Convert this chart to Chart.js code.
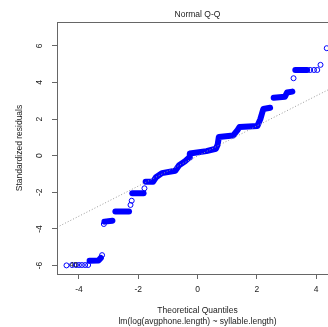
<!DOCTYPE html>
<html>
<head>
<meta charset="utf-8">
<script src="https://cdn.jsdelivr.net/npm/chart.js@4.4.1/dist/chart.umd.min.js"></script>
<style>
  html, body { margin: 0; padding: 0; overflow: hidden; background: #fff; }
  #wrap { width: 360px; height: 327px; }
</style>
</head>
<body>
<div id="wrap"><canvas id="qq" width="360" height="327"></canvas></div>
<script>
// tick labels
const xTicks = [-4, -2, 0, 2, 4];
const yTicks = [-6, -4, -2, 0, 2, 4, 6];

// single residuals, drawn as open circles (theoretical quantile, standardized residual)
const pointX = [-4.42, -4.23, -4.10, -4.00, -3.90, -3.79, -3.69, -3.22, -3.16, -2.26, -2.22, -1.79, 3.24, 3.80, 3.93, 4.04, 4.15, 4.36];
const pointY = [-5.99, -5.97, -5.97, -5.97, -5.97, -5.97, -5.97, -5.43, -3.73, -2.69, -2.46, -1.78, 4.23, 4.68, 4.68, 4.68, 4.96, 5.87];

// runs of tied residuals, so dense the circles merge into a solid band
const runA = [[-3.64, -5.74], [-3.34, -5.72], [-3.26, -5.58]];
const runB = [[-3.14, -3.60], [-2.87, -3.55]];
const runC = [[-2.77, -3.05], [-2.31, -3.05]];
const runD = [[-2.20, -2.05], [-1.82, -2.05]];
const runE = [[-1.75, -1.42], [-1.50, -1.42], [-1.40, -1.18], [-1.20, -0.95], [-0.75, -0.82],
              [-0.62, -0.52], [-0.42, -0.30], [-0.28, -0.10], [-0.26, 0.12], [0.30, 0.25],
              [0.62, 0.38], [0.68, 0.60], [0.72, 1.02], [1.20, 1.10], [1.35, 1.40],
              [1.42, 1.57], [2.02, 1.62], [2.12, 2.00], [2.22, 2.55], [2.45, 2.62]];
const runF = [[2.57, 3.17], [2.95, 3.22], [3.02, 3.45], [3.20, 3.50]];
const runG = [[3.30, 4.68], [3.70, 4.68]];

// qqline ends
const refLine = [[-4.74, -3.91], [4.74, 3.87]];

const idLabel = '45';
const xRange = [-4.74, 4.74];
const yRange = [-6.46, 7.30];

const blue = '#0000ff';
const font = '"Liberation Sans", Arial, sans-serif';
const toXY = arr => arr.map(p => ({ x: p[0], y: p[1] }));

const runDataset = run => ({
  type: 'line',
  data: toXY(run),
  borderColor: blue,
  borderWidth: 6,
  borderCapStyle: 'round',
  borderJoinStyle: 'round',
  pointRadius: 0,
  tension: 0
});

const textPlugin = {
  id: 'rtext',
  afterDraw(chart) {
    const { ctx, chartArea: a, scales: { x, y } } = chart;
    ctx.save();
    // frame
    ctx.strokeStyle = '#666';
    ctx.lineWidth = 1;
    ctx.strokeRect(Math.round(a.left) + 0.5, Math.round(a.top) + 0.5, a.right - a.left, a.bottom - a.top);

    ctx.fillStyle = '#222';
    ctx.font = '8.5px ' + font;
    ctx.textAlign = 'center';
    ctx.textBaseline = 'middle';
    xTicks.forEach(v => ctx.fillText(String(v), x.getPixelForValue(v), 290));
    yTicks.forEach(v => {
      ctx.save();
      ctx.translate(40, y.getPixelForValue(v));
      ctx.rotate(-Math.PI / 2);
      ctx.fillText(String(v), 0, 0);
      ctx.restore();
    });
    const cx = (a.left + a.right) / 2;
    ctx.fillText('Normal Q-Q', cx, 15);
    ctx.fillText('Theoretical Quantiles', cx, 311);
    ctx.fillText('lm(log(avgphone.length) ~ syllable.length)', cx, 321.5);
    ctx.save();
    ctx.translate(20, (a.top + a.bottom) / 2);
    ctx.rotate(-Math.PI / 2);
    ctx.fillText('Standardized residuals', 0, 0);
    ctx.restore();

    // id label of the extreme point
    ctx.font = '7.5px ' + font;
    ctx.textAlign = 'left';
    ctx.fillText(idLabel, x.getPixelForValue(pointX[0]) + 3, y.getPixelForValue(pointY[0]));
    ctx.restore();
  }
};

new Chart(document.getElementById('qq').getContext('2d'), {
  type: 'scatter',
  data: {
    datasets: [
      {
        type: 'line',
        data: toXY(refLine),
        borderColor: '#9a9a9a',
        borderWidth: 1,
        borderDash: [1, 2],
        pointRadius: 0
      },
      {
        data: pointX.map((v, i) => ({ x: v, y: pointY[i] })),
        borderColor: blue,
        backgroundColor: 'rgba(0,0,0,0)',
        borderWidth: 1,
        pointRadius: 2.5
      },
      runDataset(runA), runDataset(runB), runDataset(runC), runDataset(runD),
      runDataset(runE), runDataset(runF), runDataset(runG)
    ]
  },
  options: {
    responsive: false,
    animation: false,
    devicePixelRatio: 1,
    layout: { padding: { top: 22, right: 22, left: 0, bottom: 0 } },
    plugins: { legend: { display: false }, tooltip: { enabled: false } },
    scales: {
      x: {
        type: 'linear',
        min: xRange[0],
        max: xRange[1],
        afterBuildTicks: s => { s.ticks = xTicks.map(v => ({ value: v })); },
        afterFit: s => { s.height = 53; },
        ticks: { display: false },
        grid: { drawOnChartArea: false, tickLength: 5, color: '#666' },
        border: { color: '#666' }
      },
      y: {
        type: 'linear',
        min: yRange[0],
        max: yRange[1],
        afterBuildTicks: s => { s.ticks = yTicks.map(v => ({ value: v })); },
        afterFit: s => { s.width = 57; },
        ticks: { display: false },
        grid: { drawOnChartArea: false, tickLength: 5, color: '#666' },
        border: { color: '#666' }
      }
    }
  },
  plugins: [textPlugin]
});
</script>
</body>
</html>
